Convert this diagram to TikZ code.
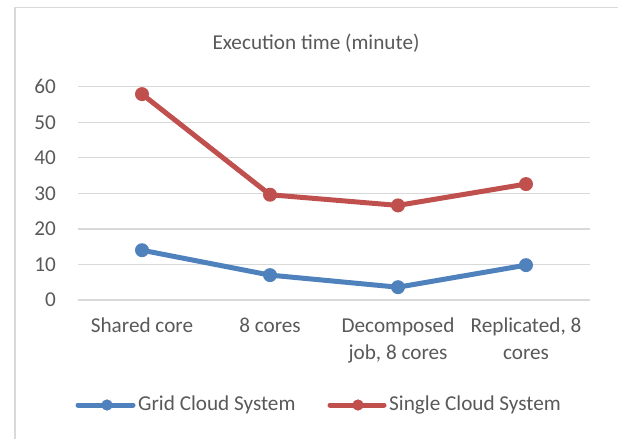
\documentclass[tikz,border=0pt]{standalone}
\usepackage{fontspec}
\setmainfont{Carlito}
\usetikzlibrary{positioning}
\definecolor{cGrid}{HTML}{4F81BD}
\definecolor{cSingle}{HTML}{C0504D}
\definecolor{cRule}{HTML}{D9D9D9}
\definecolor{cText}{HTML}{595959}

\begin{document}
\begin{tikzpicture}[x=1pt,y=1pt,font=\fontsize{21.2}{27}\selectfont,text=cText,
  mk/.style={circle,fill=#1,minimum size=14pt,inner sep=0pt},
  series/.style={draw=#1,line width=5pt,line join=round},
  gridln/.style={draw=cRule,line width=1.3pt}]
\useasboundingbox (0,0) rectangle (618,439);
% chart frame
\draw[cRule,line width=1.2pt] (15,0) -- (15,431.5) -- (618,431.5);
\node (title) at (316,396) {Execution time (minute)};
% value axis + gridlines
\foreach \v in {0,10,...,60}{
  \coordinate (gl\v) at (78,{139+3.556*\v});
  \coordinate (gr\v) at (590,{139+3.556*\v});
  \draw[gridln] (gl\v) -- (gr\v);
  \node[anchor=east,inner sep=0pt] (yl\v) at (56,{139+3.556*\v}) {\v};}
% categories
\foreach \i/\x/\t in {1/142/{Shared core},2/270/{8 cores},3/398/{Decomposed\\job, 8 cores},4/526/{Replicated, 8\\cores}}{
  \node[anchor=north,align=center,inner sep=0pt] (cat\i) at (\x,121) {\t};}
% data
\foreach \i/\x/\g/\s in {1/142/14/57.9,2/270/7/29.6,3/398/3.6/26.6,4/526/9.8/32.6}{
  \coordinate (g\i) at (\x,{139+3.556*\g});
  \coordinate (s\i) at (\x,{139+3.556*\s});}
\draw[series=cGrid] (g1) -- (g2) -- (g3) -- (g4);
\draw[series=cSingle] (s1) -- (s2) -- (s3) -- (s4);
\foreach \i in {1,...,4}{
  \node[mk=cGrid] (gm\i) at (g\i) {};
  \node[mk=cSingle] (sm\i) at (s\i) {};}
% legend
\coordinate (lgG) at (78,34);
\node[mk=cGrid,minimum size=11pt] (lgGm) at (107,34) {};
\node[anchor=west,inner sep=0pt] (lgGt) at (138,34) {Grid Cloud System};
\draw[series=cGrid,line cap=round] (lgG) -- ([xshift=-5pt]lgGt.west);
\node[mk=cGrid,minimum size=11pt] at (lgGm) {};
\coordinate (lgS) at (330,34);
\node[mk=cSingle,minimum size=11pt] (lgSm) at (358,34) {};
\node[anchor=west,inner sep=0pt] (lgSt) at (389,34) {Single Cloud System};
\draw[series=cSingle,line cap=round] (lgS) -- ([xshift=-5pt]lgSt.west);
\node[mk=cSingle,minimum size=11pt] at (lgSm) {};
\end{tikzpicture}
\end{document}
